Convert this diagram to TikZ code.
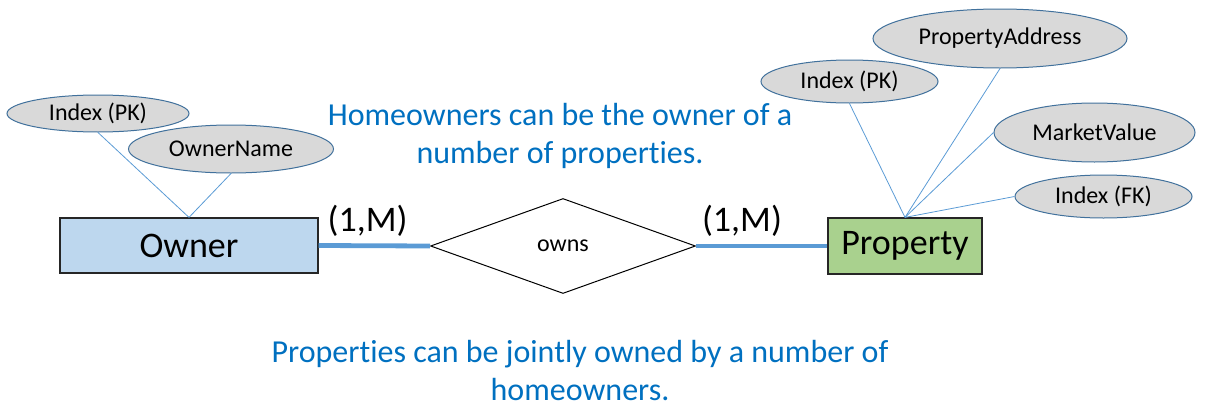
\documentclass[tikz,border=0pt]{standalone}
\usepackage{fontspec}
\setmainfont[Ligatures={NoCommon}]{Carlito}
\usepackage{tikz}
\usetikzlibrary{shapes.geometric}
\definecolor{ownerblue}{HTML}{BDD7EE}
\definecolor{propgreen}{HTML}{A9D18E}
\definecolor{attrgrey}{HTML}{D9D9D9}
\definecolor{attredge}{HTML}{41719C}
\definecolor{linkblue}{HTML}{5B9BD5}
\definecolor{noteblue}{HTML}{0070C0}

\begin{document}
\begin{tikzpicture}[x=1pt, y=-1pt,
  ent/.style={draw=black!85, line width=1.2pt, inner sep=0pt,
              font=\fontsize{36}{43}\selectfont},
  attr/.style={ellipse, draw=attredge, fill=attrgrey, line width=1pt,
               inner sep=0pt, font=\fontsize{24}{28}\selectfont},
  rel/.style={diamond, draw=black, line width=1pt, inner sep=0pt,
              minimum width=265pt, minimum height=95pt,
              font=\fontsize{24}{28}\selectfont},
  link/.style={draw=linkblue, line width=0.8pt},
  bond/.style={draw=linkblue, line width=4.8pt},
  card/.style={text=black, inner sep=0pt, font=\fontsize{36}{43}\selectfont},
  note/.style={text=noteblue, align=center, inner sep=0pt,
               font=\fontsize{32}{38}\selectfont}]
\useasboundingbox (0,0) rectangle (1221,407);

% entities and relationship
\node[ent, fill=ownerblue, minimum width=258pt, minimum height=55pt] (owner) at (189,245.5) {Owner};
\node[ent, fill=propgreen, minimum width=154pt, minimum height=56pt] (prop) at (905,246) {Property};
\node[rel] (owns) at (563,246) {owns};

% attributes
\node[attr, minimum width=182pt, minimum height=37pt] (opk) at (98,113.5) {Index (PK)};
\node[attr, minimum width=205pt, minimum height=48pt] (oname) at (231,149) {OwnerName};
\node[attr, minimum width=177pt, minimum height=43pt] (ppk) at (849.5,81.5) {Index (PK)};
\node[attr, minimum width=254pt, minimum height=59pt] (paddr) at (1000,38.5) {PropertyAddress};
\node[attr, minimum width=201pt, minimum height=59pt] (pval) at (1094.5,132.5) {MarketValue};
\node[attr, minimum width=177pt, minimum height=43pt] (pfk) at (1103.5,196.5) {Index (FK)};

\draw[link] (opk.south) -- (owner.north);
\draw[link] (oname.south) -- (owner.north);
\draw[link] (ppk.south) -- (prop.north);
\draw[link] (paddr.south) -- (prop.north);
\draw[link] (pval.west) -- (prop.north);
\draw[link] (pfk.west) -- (prop.north);

% connectors with cardinalities
\draw[bond] (owner.east) -- node[card, pos=0.44, above=7pt] (cardo) {(1,M)} (owns.west);
\draw[bond] (owns.east) -- node[card, pos=0.35, above=7pt] (cardp) {(1,M)} (prop.west);

% notes
\node[note] (noteup) at (560,136) {Homeowners can be the owner of a\\number of properties.};
\node[note] (notedown) at (580,371) {Properties can be jointly owned by a number of\\homeowners.};
\end{tikzpicture}
\end{document}
